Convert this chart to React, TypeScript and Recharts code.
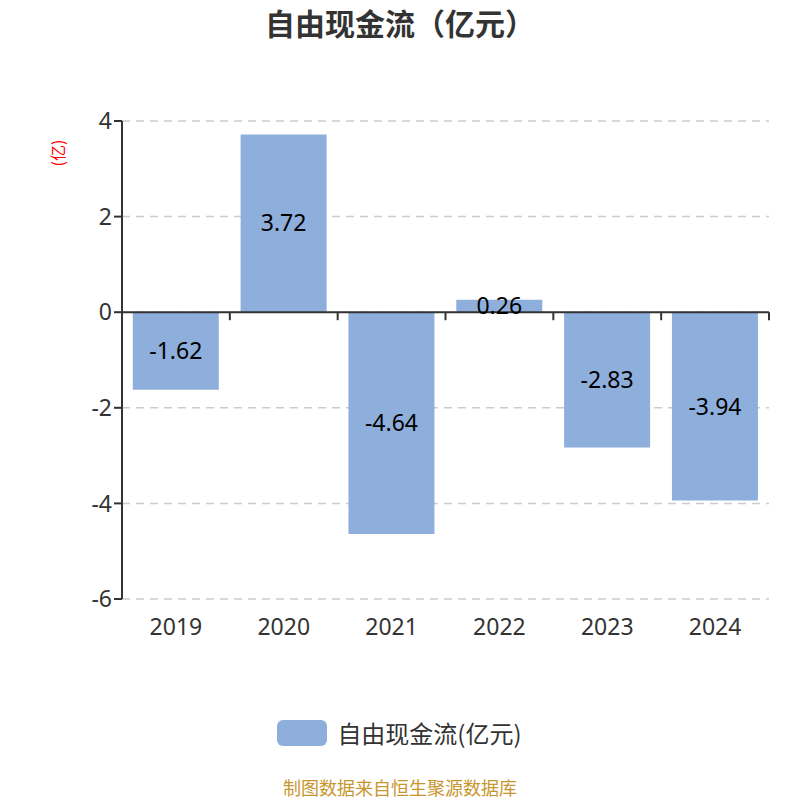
import React from "react";
import {
  BarChart,
  Bar,
  XAxis,
  YAxis,
  CartesianGrid,
  ReferenceLine,
  LabelList,
  Legend,
} from "recharts";

const years = ["2019", "2020", "2021", "2022", "2023", "2024"];
const fcf = [-1.62, 3.72, -4.64, 0.26, -2.83, -3.94];
const yTicks = [-6, -4, -2, 0, 2, 4];

const data = years.map((year, i) => ({ year, fcf: fcf[i] }));

const BAR = "#8eaedb";
const AXIS = "#333";
const FONT = "'Noto Sans CJK SC', 'Noto Sans', sans-serif";
const NUM_FONT = "'Noto Sans', 'Open Sans', sans-serif";

// zero line with tick marks at the band edges
function ZeroAxis(props: any) {
  const { x1, x2, y1 } = props;
  const n = years.length;
  const step = (x2 - x1) / n;
  const ticks = [];
  for (let i = 1; i <= n; i++) {
    const x = x1 + step * i;
    ticks.push(<line key={i} x1={x} x2={x} y1={y1} y2={y1 + 8} stroke={AXIS} strokeWidth={2} />);
  }
  return (
    <g>
      <line x1={x1} x2={x2} y1={y1} y2={y1} stroke={AXIS} strokeWidth={2} />
      {ticks}
    </g>
  );
}

function LegendBox() {
  return (
    <div style={{ display: "flex", justifyContent: "center", alignItems: "center", fontFamily: FONT, paddingLeft: 28 }}>
      <div style={{ width: 50, height: 26, borderRadius: 6, background: BAR, marginRight: 10 }} />
      <span style={{ fontSize: 24, color: AXIS }}>自由现金流(亿元)</span>
    </div>
  );
}

export default function App() {
  return (
    <div style={{ position: "absolute", left: 0, top: 0, width: 800, height: 800, background: "#fff", fontFamily: FONT }}>
      <div style={{ position: "absolute", top: 2, width: 800, textAlign: "center", fontSize: 30, lineHeight: "40px", fontWeight: 700, color: AXIS }}>
        自由现金流（亿元）
      </div>
      <div
        style={{
          position: "absolute",
          left: 44,
          top: 143,
          fontSize: 16,
          lineHeight: "20px",
          color: "red",
          transform: "rotate(-90deg)",
          transformOrigin: "center",
        }}
      >
        (亿)
      </div>
      <BarChart
        width={800}
        height={800}
        data={data}
        margin={{ top: 121, right: 31, left: 2, bottom: 0 }}
        barCategoryGap="10%"
      >
        <CartesianGrid vertical={false} stroke="#ccc" strokeDasharray="8 6" strokeWidth={1.5} />
        <XAxis
          dataKey="year"
          axisLine={false}
          tickLine={false}
          height={166}
          tick={{ fontSize: 23, fill: AXIS, fontFamily: NUM_FONT }}
          tickMargin={14}
        />
        <YAxis
          domain={[-6, 4]}
          ticks={yTicks}
          width={120}
          axisLine={{ stroke: AXIS, strokeWidth: 2 }}
          tickLine={{ stroke: AXIS, strokeWidth: 2 }}
          tickSize={8}
          tick={{ fontSize: 23, fill: AXIS, fontFamily: NUM_FONT }}
        />
        <Bar dataKey="fcf" fill={BAR} isAnimationActive={false}>
          <LabelList dataKey="fcf" position="center" fill="#000" fontSize={23} fontFamily={NUM_FONT} />
        </Bar>
        <ReferenceLine y={0} shape={ZeroAxis} />
        <Legend verticalAlign="bottom" content={() => <LegendBox />} wrapperStyle={{ bottom: 50 }} />
      </BarChart>
      <div style={{ position: "absolute", top: 776, width: 800, textAlign: "center", fontSize: 18, lineHeight: "22px", color: "#c8962e" }}>
        制图数据来自恒生聚源数据库
      </div>
    </div>
  );
}
